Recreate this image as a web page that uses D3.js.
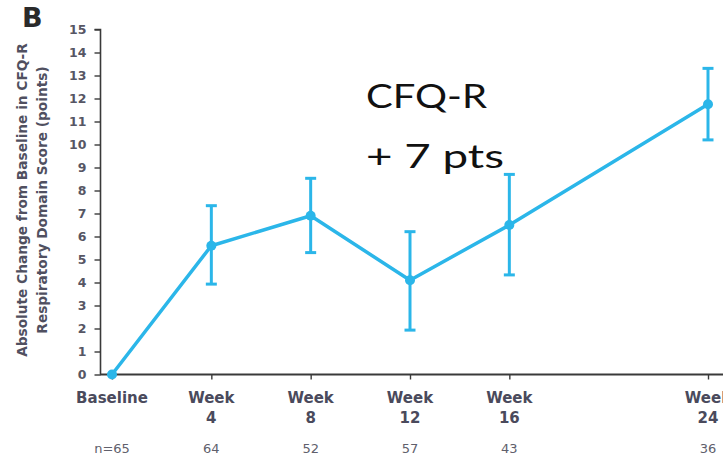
<!DOCTYPE html>
<html>
<head>
<meta charset="utf-8">
<script src="https://cdn.jsdelivr.net/npm/d3@7"></script>
<style>
  html, body { margin: 0; padding: 0; background: #fff; }
  svg { display: block; }
</style>
</head>
<body>
<svg id="chart" width="723" height="465"></svg>
<script>
// Visit schedule and sample sizes
const weeks = [0, 4, 8, 12, 16, 24];
const visitTop = ["Baseline", "Week", "Week", "Week", "Week", "Week"];
const visitBottom = ["", "4", "8", "12", "16", "24"];
const sampleN = ["n=65", "64", "52", "57", "43", "36"];

// Mean absolute change from baseline (points) with error-bar limits
const meanChange = [0, 5.6, 6.9, 4.1, 6.5, 11.75];
const lowerLimit = [null, 3.93, 5.3, 1.93, 4.33, 10.2];
const upperLimit = [null, 7.34, 8.53, 6.21, 8.7, 13.31];

const yTicks = d3.range(0, 16);

const blue = "#2bb6e9";
const axisColor = "#3a3a3a";
const labelColor = "#4a4a5c";
const sans = "'DejaVu Sans', Verdana, sans-serif";

const svg = d3.select("#chart");

const x = d3.scaleLinear().domain([0, 24]).range([112, 708]);
const y = d3.scaleLinear().domain([0, 15]).range([374.5, 29.5]);

// Panel letter
svg.append("text")
  .attr("x", 22).attr("y", 27)
  .attr("font-family", sans)
  .attr("font-weight", "bold").attr("font-size", 27)
  .attr("fill", "#2a2a2a")
  .text("B");

// Y axis
const yAxis = d3.axisLeft(y).tickValues(yTicks).tickSize(6).tickPadding(8).tickFormat(d3.format("d"));
const gy = svg.append("g").attr("transform", "translate(100.5,0)").call(yAxis);
gy.select(".domain").attr("stroke", axisColor).attr("stroke-width", 1.6).attr("d", `M-6,${y(15)}H0V${y(0)}`);
gy.selectAll(".tick line").attr("stroke", axisColor).attr("stroke-width", 1.4);
gy.selectAll(".tick text")
  .attr("font-family", sans)
  .attr("font-weight", "bold").attr("font-size", 12.5)
  .attr("fill", "#565664");

// X axis
const xAxis = d3.axisBottom(x).tickValues(weeks).tickSize(5).tickFormat("");
const gx = svg.append("g").attr("transform", `translate(0,${y(0)})`).call(xAxis);
gx.select(".domain").attr("stroke", axisColor).attr("stroke-width", 1.8).attr("d", `M100,0H723`);
gx.selectAll(".tick line").attr("stroke", axisColor).attr("stroke-width", 1.4);

// Visit labels
const labels = svg.append("g")
  .attr("font-family", sans)
  .attr("font-weight", "bold").attr("font-size", 15)
  .attr("fill", labelColor).attr("text-anchor", "middle");
weeks.forEach((w, i) => {
  labels.append("text").attr("x", x(w)).attr("y", 403).text(visitTop[i]);
  if (visitBottom[i]) labels.append("text").attr("x", x(w)).attr("y", 423).text(visitBottom[i]);
});

// Sample sizes
const nRow = svg.append("g")
  .attr("font-family", sans)
  .attr("font-size", 13)
  .attr("fill", "#60606c").attr("text-anchor", "middle");
weeks.forEach((w, i) => {
  nRow.append("text").attr("x", x(w)).attr("y", 453).text(sampleN[i]);
});

// Y axis title
const yt = svg.append("text")
  .attr("transform", "translate(0,200) rotate(-90)")
  .attr("font-family", sans)
  .attr("font-weight", "bold").attr("font-size", 13.7)
  .attr("fill", "#505060").attr("text-anchor", "middle");
yt.append("tspan").attr("x", 0).attr("y", 27).text("Absolute Change from Baseline in CFQ-R");
yt.append("tspan").attr("x", 0).attr("y", 47).text("Respiratory Domain Score (points)");

// Error bars
const eb = svg.append("g").attr("stroke", blue).attr("stroke-width", 3);
weeks.forEach((w, i) => {
  if (lowerLimit[i] == null) return;
  const cx = x(w);
  eb.append("line").attr("x1", cx).attr("x2", cx).attr("y1", y(lowerLimit[i])).attr("y2", y(upperLimit[i]));
  eb.append("line").attr("x1", cx - 5.5).attr("x2", cx + 5.5).attr("y1", y(lowerLimit[i])).attr("y2", y(lowerLimit[i]));
  eb.append("line").attr("x1", cx - 5.5).attr("x2", cx + 5.5).attr("y1", y(upperLimit[i])).attr("y2", y(upperLimit[i]));
});

// Mean line and markers
const line = d3.line().x((d, i) => x(weeks[i])).y(d => y(d));
svg.append("path").datum(meanChange)
  .attr("d", line).attr("fill", "none")
  .attr("stroke", blue).attr("stroke-width", 3.5).attr("stroke-linejoin", "round");
svg.append("g").selectAll("circle").data(meanChange).join("circle")
  .attr("cx", (d, i) => x(weeks[i])).attr("cy", d => y(d)).attr("r", 5)
  .attr("fill", blue);

// Callout
const callout = svg.append("text")
  .attr("font-family", "Lato, 'Open Sans', sans-serif")
  .attr("font-size", 32).attr("fill", "#111");
callout.append("tspan").attr("x", 366).attr("y", 108)
  .attr("textLength", 121).attr("lengthAdjust", "spacingAndGlyphs").text("CFQ-R");
callout.append("tspan").attr("x", 366).attr("y", 168)
  .attr("textLength", 138).attr("lengthAdjust", "spacingAndGlyphs").text("+ 7 pts");
</script>
</body>
</html>
